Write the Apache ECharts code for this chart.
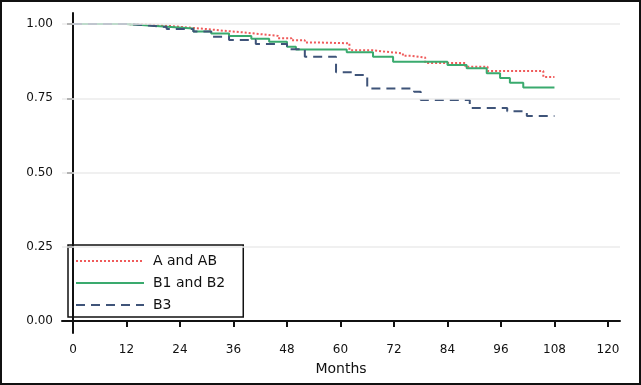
<!DOCTYPE html>
<html>
<head>
<meta charset="utf-8">
<script src="https://cdn.jsdelivr.net/npm/echarts@6.0.0/dist/echarts.min.js"></script>
<style>
  html, body { margin: 0; padding: 0; background: #fff; }
  #wrap { position: relative; width: 641px; height: 385px; }
  #chart { width: 641px; height: 385px; }
  #frame { position: absolute; left: 0; top: 0; width: 641px; height: 385px; box-sizing: border-box; border: 2px solid #111; pointer-events: none; }
</style>
</head>
<body>
<div id="wrap">
  <div id="chart"></div>
  <div id="frame"></div>
</div>
<script>
// survival curves (months, survival)
const monthsA = [0, 12, 18, 22, 26, 30, 34, 38, 42, 46, 49, 52, 54, 62, 67, 70, 74, 76, 79, 88, 93, 105.5, 108]
const survA   = [1, 0.997, 0.993, 0.988, 0.983, 0.977, 0.972, 0.966, 0.96, 0.952, 0.945, 0.938, 0.935, 0.912, 0.907, 0.901, 0.893, 0.887, 0.869, 0.856, 0.842, 0.822, 0.822]

const monthsB12 = [0, 12, 17, 22, 27, 31, 35, 40, 44, 48, 50, 61.4, 67.3, 71.8, 84, 88.3, 92.8, 95.8, 98, 101, 108]
const survB12   = [1, 0.995, 0.99, 0.985, 0.975, 0.968, 0.96, 0.95, 0.94, 0.923, 0.914, 0.905, 0.89, 0.873, 0.862, 0.851, 0.834, 0.818, 0.802, 0.786, 0.786]

const monthsB3 = [0, 13, 17, 21, 27, 31, 35, 41, 48, 52, 59, 63, 66, 76.5, 78, 89, 97.4, 101.8, 108]
const survB3   = [1, 0.995, 0.99, 0.983, 0.975, 0.957, 0.946, 0.933, 0.915, 0.89, 0.838, 0.828, 0.783, 0.772, 0.744, 0.717, 0.706, 0.69, 0.69]

const xTicks = [0, 12, 24, 36, 48, 60, 72, 84, 96, 108, 120]
const yTicks = [0, 0.25, 0.5, 0.75, 1]
const gridValues = [0.25, 0.5, 0.75, 1]
const seriesNames = ['A and AB', 'B1 and B2', 'B3']

const pairs = (xs, ys) => xs.map((x, i) => [x, ys[i]])
const font = 'DejaVu Sans'

const chart = echarts.init(document.getElementById('chart'))

function kmSeries (name, data, color, type, width) {
  return {
    name,
    type: 'line',
    step: 'end',
    symbol: 'none',
    data,
    lineStyle: { color, width, type },
    itemStyle: { color }
  }
}

chart.setOption({
  animation: false,
  grid: { left: 62, right: 21, top: 13, bottom: 52 },
  xAxis: {
    type: 'value',
    min: -2.47,
    max: 122.7,
    name: 'Months',
    nameLocation: 'middle',
    nameGap: 29,
    nameTextStyle: { fontFamily: font, fontSize: 14, color: '#111' },
    axisLine: { lineStyle: { color: '#111', width: 2 } },
    axisTick: { show: true, length: 6, customValues: xTicks, lineStyle: { color: '#111', width: 2 } },
    axisLabel: { customValues: xTicks, margin: 11, fontFamily: font, fontSize: 12, color: '#111' },
    splitLine: { show: false }
  },
  yAxis: {
    type: 'value',
    min: -0.040,
    max: 1.037,
    axisLine: { show: true, lineStyle: { color: '#111', width: 2 } },
    axisTick: { show: true, length: 6, customValues: yTicks, lineStyle: { color: '#111', width: 2 } },
    axisLabel: {
      customValues: yTicks,
      margin: 9,
      fontFamily: font,
      fontSize: 12,
      color: '#111',
      formatter: v => v.toFixed(2)
    },
    splitLine: { show: false }
  },
  legend: {
    data: seriesNames,
    orient: 'vertical',
    left: 68,
    top: 245,
    itemWidth: 68,
    itemHeight: 14,
    itemGap: 8,
    padding: [9, 18, 5, 7],
    borderColor: '#111',
    borderWidth: 1.5,
    itemStyle: { color: 'transparent', borderWidth: 0, opacity: 0 },
    textStyle: { fontFamily: font, fontSize: 14, color: '#111', padding: [0, 0, 0, 4] }
  },
  series: [
    // light gridlines
    {
      type: 'line',
      data: [],
      silent: true,
      markLine: {
        silent: true,
        symbol: 'none',
        label: { show: false },
        lineStyle: { color: '#ebebeb', width: 1.5, type: 'solid' },
        data: gridValues.map(v => ({ yAxis: v }))
      }
    },
    kmSeries(seriesNames[0], pairs(monthsA, survA), '#ef5a5a', [2, 2], 2),
    kmSeries(seriesNames[1], pairs(monthsB12, survB12), '#3aaa6e', 'solid', 2),
    kmSeries(seriesNames[2], pairs(monthsB3, survB3), '#3f5479', [9, 6], 2)
  ]
})
</script>
</body>
</html>
